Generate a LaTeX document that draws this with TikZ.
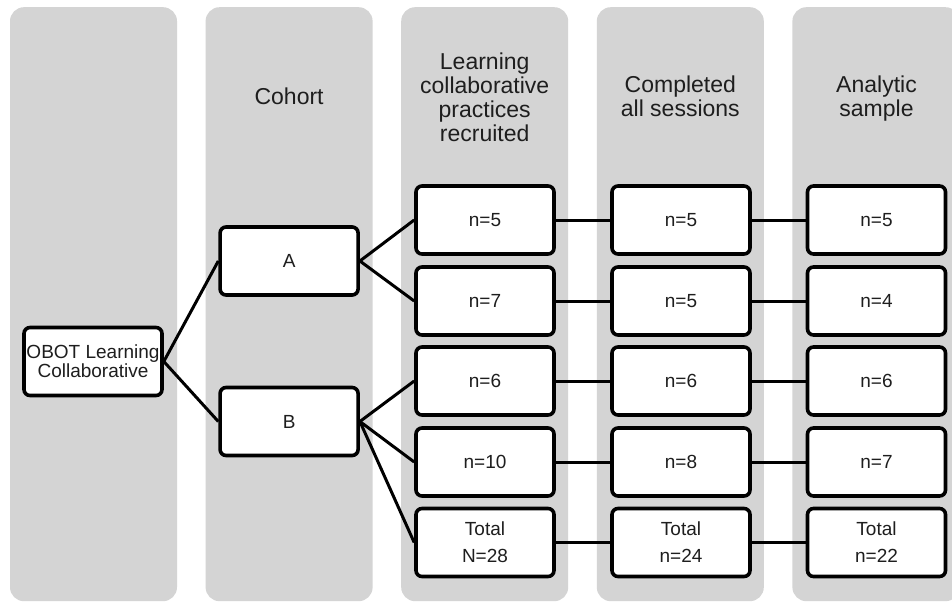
\documentclass[tikz,border=0pt]{standalone}
\usepackage{fontspec}
\setmainfont{Liberation Sans}
\definecolor{colgray}{RGB}{212,212,212}
\definecolor{txt}{RGB}{30,30,30}
\begin{document}
\begin{tikzpicture}[x=1pt,y=-1pt,
  column/.style={fill=colgray, draw=none, rounded corners=14pt, minimum width=167pt, minimum height=594pt, inner sep=0pt, anchor=north},
  header/.style={font=\fontsize{23}{24}\selectfont, text=txt, align=center},
  box/.style={draw=black, line width=3.6pt, fill=white, rounded corners=6pt, minimum width=138pt, minimum height=68pt, inner sep=0pt, font=\fontsize{19}{27}\selectfont, text=txt, align=center},
  link/.style={line width=3pt, draw=black}]
\clip (0,0) rectangle (952,602);
\fill[white] (0,0) rectangle (952,602);
% gray columns
\node[column] (col1) at (93.5,7) {};
\node[column] (col2) at (289.1,7) {};
\node[column] (col3) at (484.7,7) {};
\node[column] (col4) at (680.3,7) {};
\node[column] (col5) at (875.9,7) {};
% headers
\node[header] (h2) at (289.1,96.5) {Cohort};
\node[header] (h3) at (484.7,97) {Learning\\collaborative\\practices\\recruited};
\node[header] (h4) at (680.3,96) {Completed\\all sessions};
\node[header] (h5) at (876.5,98.5) {Analytic\\sample};
% boxes
\node[box, font=\fontsize{19}{19}\selectfont] (obot) at (93,361.5) {OBOT Learning\\Collaborative};
\node[box] (A) at (289.1,261) {A};
\node[box] (B) at (289.1,421.5) {B};
\node[box] (r1c3) at (485,220) {n=5};
\node[box] (r2c3) at (485,301) {n=7};
\node[box] (r3c3) at (485,381) {n=6};
\node[box] (r4c3) at (485,462) {n=10};
\node[box] (r5c3) at (485,542.5) {Total\\N=28};
\node[box] (r1c4) at (681,220) {n=5};
\node[box] (r2c4) at (681,301) {n=5};
\node[box] (r3c4) at (681,381) {n=6};
\node[box] (r4c4) at (681,462) {n=8};
\node[box] (r5c4) at (681,542.5) {Total\\n=24};
\node[box] (r1c5) at (876.5,220) {n=5};
\node[box] (r2c5) at (876.5,301) {n=4};
\node[box] (r3c5) at (876.5,381) {n=6};
\node[box] (r4c5) at (876.5,462) {n=7};
\node[box] (r5c5) at (876.5,542.5) {Total\\n=22};
% connectors
\draw[link] (obot.east) -- (A.west);
\draw[link] (obot.east) -- (B.west);
\draw[link] (A.east) -- (r1c3.west);
\draw[link] (A.east) -- (r2c3.west);
\draw[link] (B.east) -- (r3c3.west);
\draw[link] (B.east) -- (r4c3.west);
\draw[link] (B.east) -- (r5c3.west);
\foreach \r in {1,...,5}{
  \draw[link] (r\r c3.east) -- (r\r c4.west);
  \draw[link] (r\r c4.east) -- (r\r c5.west);
}
\end{tikzpicture}
\end{document}
